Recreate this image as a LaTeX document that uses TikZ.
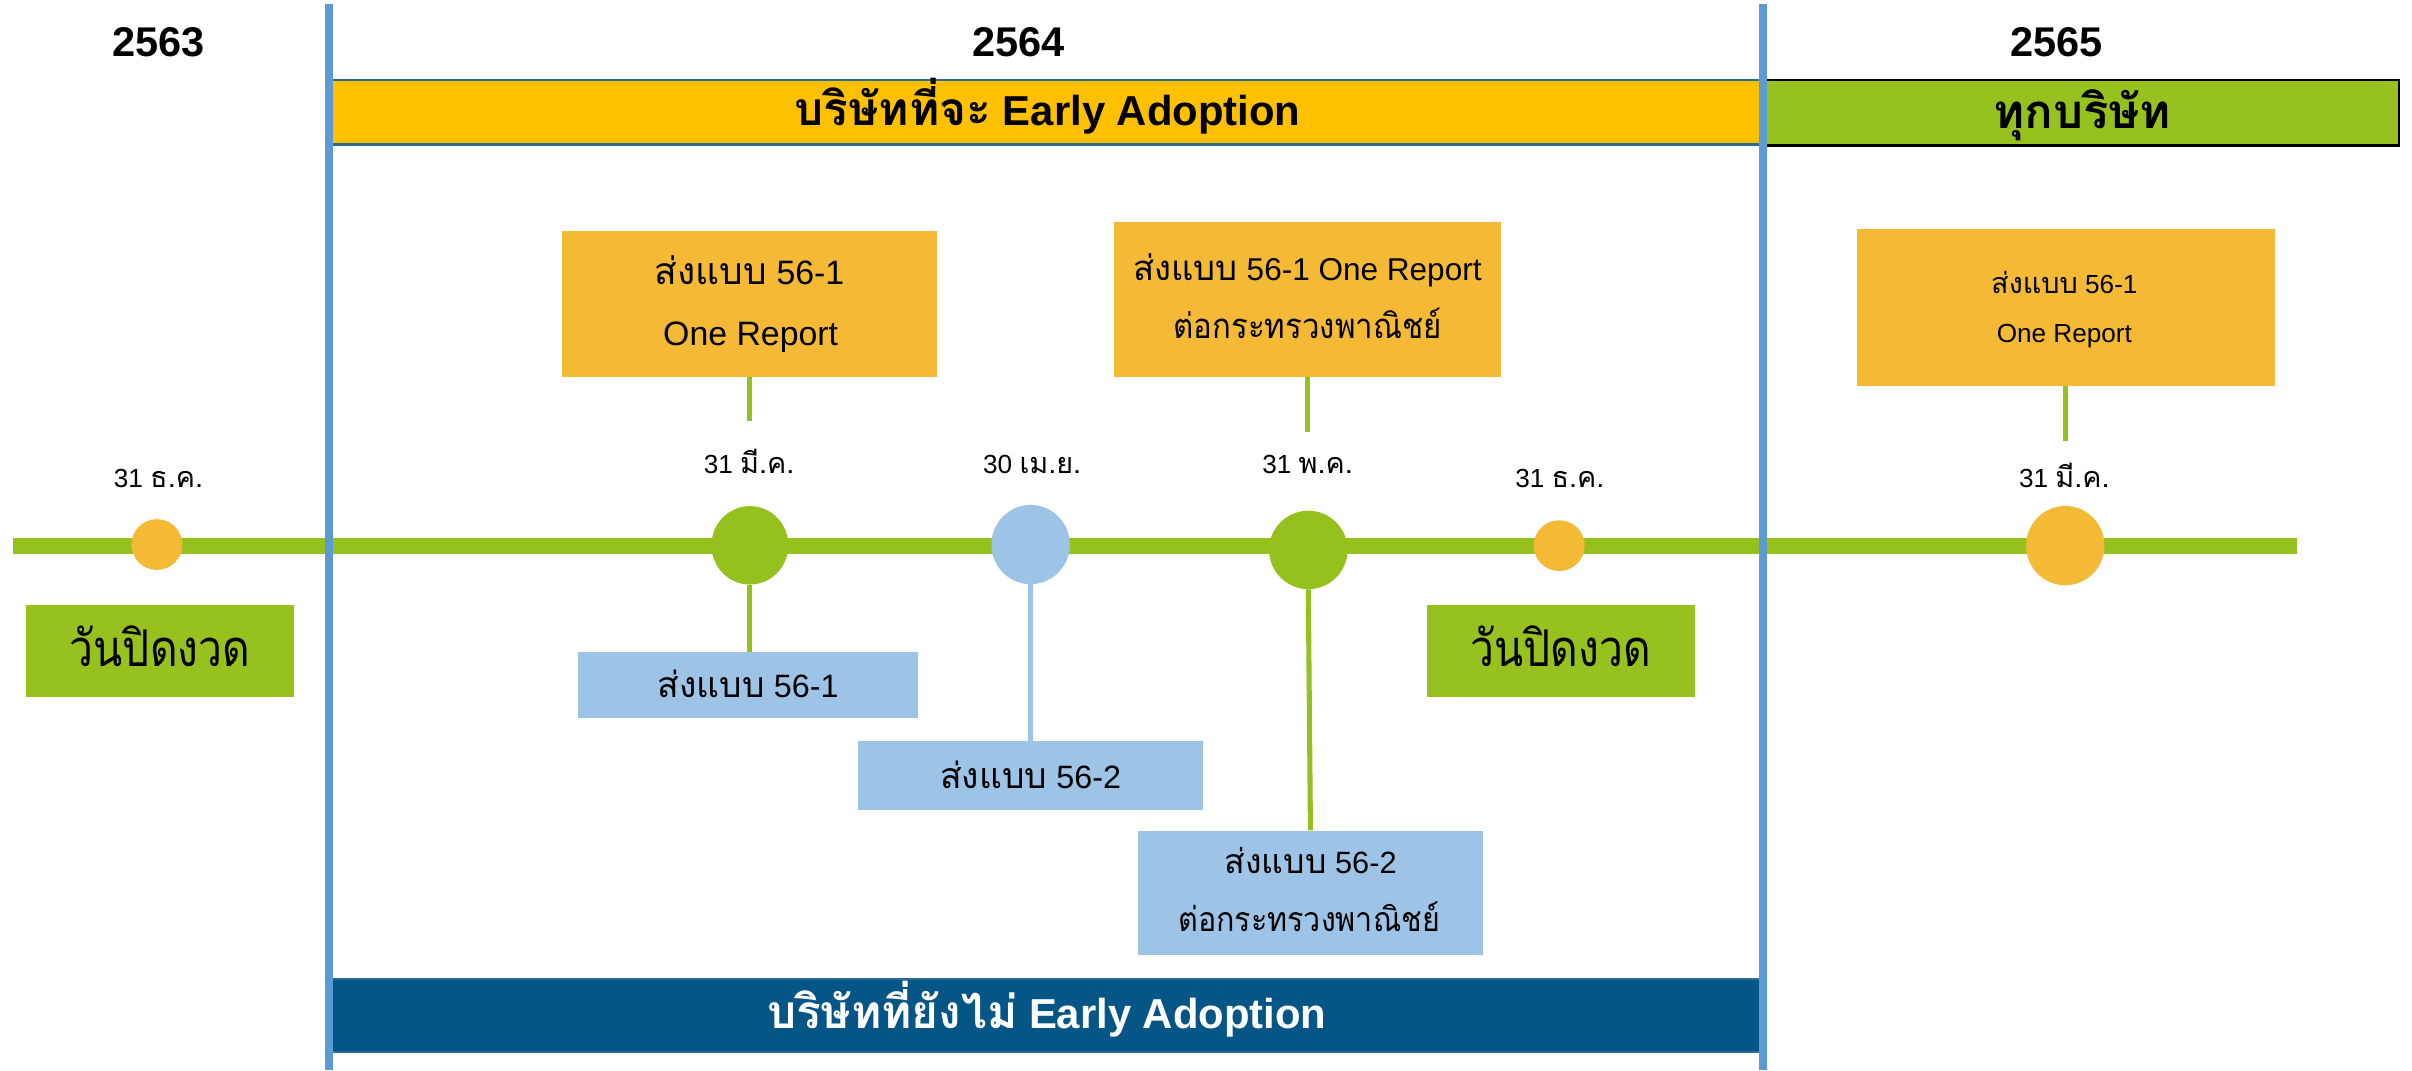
\documentclass[tikz,border=0pt]{standalone}
\usepackage{fontspec}
\usetikzlibrary{shapes.geometric}
\setmainfont{Liberation Sans}
\newfontfamily\thaif[Script=Thai,Scale=1.1]{Loma}
\newfontfamily\thainarrow[Script=Thai,Scale=1.1,FakeStretch=0.9]{Loma}
\newfontfamily\thaicond[Script=Thai,Scale=1.1,FakeStretch=0.84]{Loma}
\newcommand\thx[1]{{\thaif #1}}
\newcommand\fsz[1]{\fontsize{#1}{#1}\selectfont}
\definecolor{barorange}{HTML}{FFC000}
\definecolor{boxorange}{HTML}{F5BA35}
\definecolor{tlgreen}{HTML}{95C11F}
\definecolor{boxgreen}{HTML}{97C11F}
\definecolor{ltblue}{HTML}{9DC3E6}
\definecolor{vblue}{HTML}{5B9BD5}
\definecolor{darkbar}{HTML}{065587}
\definecolor{barline}{HTML}{2E6A98}
\begin{document}
\begin{tikzpicture}[x=1pt,y=-1pt,
  txt/.style={inner sep=0pt, anchor=base},
  plainbox/.style={rectangle, inner sep=0pt, draw=none},
  obox/.style={plainbox, fill=boxorange},
  gbox/.style={plainbox, fill=boxgreen},
  bbox/.style={plainbox, fill=ltblue},
  dotorange/.style={ellipse, inner sep=0pt, fill=boxorange},
  conn/.style={line width=3.3pt, tlgreen},
  connb/.style={line width=3.3pt, ltblue},
  vline/.style={line width=5.3pt, vblue},
  tline/.style={line width=10pt, tlgreen}
]
\useasboundingbox (0,0) rectangle (1568,695.6);
\fill[white] (0,0) rectangle (1568,695.6);

% top bars
\node[plainbox, fill=barorange, draw=barline, line width=1.5pt, minimum width=932pt, minimum height=42pt] (barA) at (680,73) {};
\node[plainbox, fill=boxgreen, draw=black, line width=1.8pt, minimum width=413pt, minimum height=42.5pt] (barB) at (1353,73.3) {};
% bottom bar
\node[plainbox, fill=darkbar, draw=barline, line width=1pt, minimum width=934.6pt, minimum height=47.5pt] (barC) at (680.3,660.3) {};

% timeline
\coordinate (tl0) at (8.3,355);
\coordinate (tl1) at (1493,355);
\draw[tline] (tl0) -- (tl1);

% vertical year separators
\coordinate (v1a) at (214,2.6); \coordinate (v1b) at (214,695.6);
\coordinate (v2a) at (1146,2.6); \coordinate (v2b) at (1146,695.6);
\draw[vline] (v1a) -- (v1b);
\draw[vline] (v2a) -- (v2b);

% years
\node[txt, font=\fsz{27}\bfseries] (y1) at (103,37) {2563};
\node[txt, font=\fsz{27}\bfseries] (y2) at (662,37) {2564};
\node[txt, font=\fsz{27}\bfseries] (y3) at (1337,37) {2565};

% bar texts
\node[txt, font=\fsz{27.2}\bfseries] (barAt) at (681,81.5) {\thx{บริษัทที่จะ} Early Adoption};
\node[txt, font=\fsz{28}\bfseries] (barBt) at (1353.6,83.5) {\thx{ทุกบริษัท}};
\node[txt, font=\fsz{27.2}\bfseries, text=white] (barCt) at (680.5,668.5) {\thx{บริษัทที่ยังไม่} Early Adoption};

% circles
\node[dotorange, minimum width=33.2pt, minimum height=33pt] (c1) at (102,354) {};
\node[ellipse, inner sep=0pt, fill=tlgreen, minimum width=50pt, minimum height=51pt] (c2) at (487.5,354.5) {};
\node[ellipse, inner sep=0pt, fill=ltblue, minimum width=51pt, minimum height=51.5pt] (c3) at (670,354) {};
\node[ellipse, inner sep=0pt, fill=tlgreen, minimum width=51pt, minimum height=51pt] (c4) at (850.5,357.5) {};
\node[dotorange, minimum width=33.2pt, minimum height=33pt] (c5) at (1013.6,354.7) {};
\node[dotorange, minimum width=51pt, minimum height=51.5pt] (c6) at (1342.6,354.7) {};

% date labels
\node[txt, font=\fsz{17}] (d1) at (103,317) {31 \thx{ธ.ค.}};
\node[txt, font=\fsz{17}] (d2) at (487,308) {31 \thx{มี.ค.}};
\node[txt, font=\fsz{17}] (d3) at (671,308) {30 \thx{เม.ย.}};
\node[txt, font=\fsz{17}] (d4) at (850,308) {31 \thx{พ.ค.}};
\node[txt, font=\fsz{17}] (d5) at (1014,317) {31 \thx{ธ.ค.}};
\node[txt, font=\fsz{17}] (d6) at (1342,317) {31 \thx{มี.ค.}};

% orange boxes (above)
\node[obox, minimum width=243.5pt, minimum height=95pt] (ob1) at (487.3,197.5) {};
\node[obox, minimum width=251.5pt, minimum height=101pt] (ob2) at (849.8,194.5) {};
\node[obox, minimum width=272pt, minimum height=102pt] (ob3) at (1343,200) {};
\node[txt, font=\fsz{22}] (ob1a) at (487.3,184.7) {\thx{ส่งแบบ} 56-1};
\node[txt, font=\fsz{22}] (ob1b) at (488,224.7) {One Report};
\node[txt, font=\fsz{20.5}] (ob2a) at (850,182.5) {\thx{ส่งแบบ} 56-1 One Report};
\node[txt, font=\fsz{20.5}] (ob2b) at (850,220) {{\thainarrow ต่อกระทรวงพาณิชย์}};
\node[txt, font=\fsz{17}] (ob3a) at (1342,190.5) {\thx{ส่งแบบ} 56-1};
\node[txt, font=\fsz{17}] (ob3b) at (1342,222.4) {One Report};

% connectors from orange boxes
\coordinate (e1) at (487.3,274);
\coordinate (e2) at (849.8,281);
\coordinate (e3) at (1343,287);
\draw[conn] (ob1.south) -- (e1);
\draw[conn] (ob2.south) -- (e2);
\draw[conn] (ob3.south) -- (e3);

% green boxes
\node[gbox, minimum width=174pt, minimum height=60pt] (gb1) at (104,423) {};
\node[gbox, minimum width=174.5pt, minimum height=60pt] (gb2) at (1014.8,423) {};
\node[txt, font=\fsz{30}] (gb1t) at (104,433.3) {{\thaicond วันปิดงวด}};
\node[txt, font=\fsz{30}] (gb2t) at (1014.5,433.3) {{\thaicond วันปิดงวด}};

% blue boxes
\node[bbox, minimum width=221pt, minimum height=43pt] (bb1) at (486.4,445.5) {};
\node[bbox, minimum width=224.4pt, minimum height=44.6pt] (bb2) at (669.8,504.3) {};
\node[bbox, minimum width=224.3pt, minimum height=80.7pt] (bb3) at (851.9,580.3) {};
\node[txt, font=\fsz{21}] (bb1t) at (486.4,453.4) {\thx{ส่งแบบ} 56-1};
\node[txt, font=\fsz{21}] (bb2t) at (670,512.6) {\thx{ส่งแบบ} 56-2};
\node[txt, font=\fsz{20}] (bb3a) at (852,568) {\thx{ส่งแบบ} 56-2};
\node[txt, font=\fsz{20}] (bb3b) at (851,605.7) {{\thainarrow ต่อกระทรวงพาณิชย์}};

% connectors from circles
\draw[conn] (c2.south) -- (bb1.north -| c2.south);
\draw[connb] (c3.south) -- (bb2.north -| c3.south);
\draw[conn] (c4.south) -- (bb3.north);
\end{tikzpicture}
\end{document}
